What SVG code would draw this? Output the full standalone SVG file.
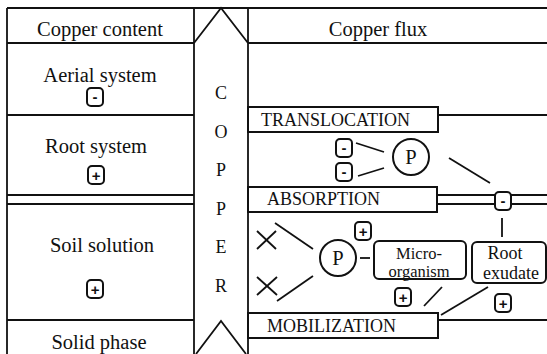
<svg xmlns="http://www.w3.org/2000/svg" xmlns:xlink="http://www.w3.org/1999/xlink" width="547" height="354" viewBox="0 0 547 354" font-family="'Liberation Serif', 'Times New Roman', serif">
  <style>
    .ln { stroke: #111; stroke-width: 1.8; fill: none; }
    .bx { stroke: #111; stroke-width: 2; fill: #fff; }
    .lbl { font-family: "Liberation Serif", "Times New Roman", serif; font-size: 20.5px; fill: #111; text-anchor: middle; }
    .cap { font-family: "Liberation Serif", "Times New Roman", serif; font-size: 18px; fill: #111; }
    .sm { font-family: "Liberation Serif", "Times New Roman", serif; font-size: 18px; fill: #111; text-anchor: middle; }
    .tight { font-size: 16.5px; }
    .sign { stroke: #111; stroke-width: 2; fill: #fff; }
    .sg { font-family: "Liberation Sans", Arial, sans-serif; font-weight: bold; font-size: 15px; fill: #111; text-anchor: middle; }
  </style>
  <defs>
    <g id="plusBox">
      <rect class="sign" x="-8" y="-9" width="16" height="18" rx="4"/>
      <text class="sg" x="0" y="5.5">+</text>
    </g>
    <g id="minusBox">
      <rect class="sign" x="-8" y="-9" width="16" height="18" rx="4"/>
      <text class="sg" x="0" y="5">-</text>
    </g>
  </defs>
  <rect width="547" height="354" fill="#fff"/>

  <!-- table frame and the COPPER arrow column -->
  <g id="frame" class="ln">
    <line x1="7" y1="8" x2="547" y2="8"/>
    <line x1="7" y1="8" x2="7" y2="354"/>
    <line x1="7" y1="43" x2="194" y2="43"/>
    <line x1="248" y1="43" x2="547" y2="43"/>
    <line x1="194" y1="8" x2="194" y2="354"/>
    <line x1="248" y1="8" x2="248" y2="354"/>
    <polyline points="194,43 221,8 248,43"/>
    <polyline points="196,354 221,321 246,354"/>
    <line x1="7" y1="115" x2="194" y2="115"/>
    <line x1="7" y1="195" x2="194" y2="195"/>
    <line x1="7" y1="204" x2="194" y2="204"/>
    <line x1="7" y1="320" x2="194" y2="320"/>
    <line x1="438" y1="115" x2="547" y2="115"/>
    <line x1="437" y1="195" x2="547" y2="195"/>
    <line x1="437" y1="204" x2="547" y2="204"/>
    <line x1="438" y1="320" x2="547" y2="320"/>
  </g>

  <!-- column headers -->
  <g id="headers">
    <text class="lbl" x="100" y="36">Copper content</text>
    <text class="lbl" x="378" y="36">Copper flux</text>
  </g>

  <!-- copper content compartments -->
  <g id="aerial">
    <text class="lbl" x="100" y="82">Aerial system</text>
    <use xlink:href="#minusBox" x="95" y="97"/>
  </g>
  <g id="root">
    <text class="lbl" x="96" y="153">Root system</text>
    <use xlink:href="#plusBox" x="96" y="175"/>
  </g>
  <g id="soil">
    <text class="lbl" x="102" y="252">Soil solution</text>
    <use xlink:href="#plusBox" x="95" y="289"/>
  </g>
  <g id="solid">
    <text class="lbl" x="99" y="349">Solid phase</text>
  </g>

  <!-- vertical word in the arrow -->
  <g id="copper" class="sm" font-size="19">
    <text x="221" y="99">C</text>
    <text x="221" y="137.5">O</text>
    <text x="221" y="176">P</text>
    <text x="221" y="214.5">P</text>
    <text x="221" y="253">E</text>
    <text x="221" y="291.5">R</text>
  </g>

  <!-- flux bars -->
  <g id="translocation">
    <rect class="bx" x="248" y="107" width="190" height="25"/>
    <text class="cap" x="261" y="126">TRANSLOCATION</text>
  </g>
  <g id="absorption">
    <rect class="bx" x="248" y="187" width="189" height="25"/>
    <text class="cap" x="267" y="205">ABSORPTION</text>
  </g>
  <g id="mobilization">
    <rect class="bx" x="248" y="313" width="190" height="25"/>
    <text class="cap" x="267" y="332">MOBILIZATION</text>
  </g>

  <!-- connectors -->
  <g id="connectors" class="ln" stroke-width="2">
    <line x1="356" y1="143" x2="384" y2="152"/>
    <line x1="358" y1="176" x2="384" y2="168"/>
    <line x1="449" y1="158" x2="490" y2="183"/>
    <line x1="502" y1="218" x2="502" y2="237"/>
    <line x1="275" y1="223" x2="313" y2="249"/>
    <line x1="313" y1="276" x2="277" y2="301"/>
    <line x1="360" y1="258" x2="370" y2="258"/>
    <line x1="442" y1="287" x2="424" y2="306"/>
    <line x1="488" y1="287" x2="441" y2="315"/>
    <!-- crossed-out marks -->
    <line x1="257" y1="231" x2="276" y2="249"/>
    <line x1="257" y1="249" x2="276" y2="231"/>
    <line x1="257" y1="277" x2="277" y2="295"/>
    <line x1="257" y1="295" x2="277" y2="277"/>
  </g>

  <!-- upper phosphorus node -->
  <g id="p-upper">
    <circle class="bx" cx="411" cy="157" r="18"/>
    <text class="lbl" x="411" y="164">P</text>
  </g>
  <g id="sign-upper">
    <use xlink:href="#minusBox" x="344" y="148"/>
    <use xlink:href="#minusBox" x="344" y="172"/>
  </g>
  <g id="sign-absorption">
    <use xlink:href="#minusBox" x="503" y="201"/>
  </g>

  <!-- lower phosphorus node -->
  <g id="p-lower">
    <circle class="bx" cx="338" cy="258" r="18"/>
    <text class="lbl" x="338" y="265">P</text>
    <use xlink:href="#plusBox" x="363" y="231"/>
  </g>

  <g id="microorganism">
    <rect class="bx" x="374" y="241" width="92" height="38" rx="5"/>
    <text class="sm tight" x="419" y="258.5">Micro-</text>
    <text class="sm tight" x="419" y="277">organism</text>
    <use xlink:href="#plusBox" x="403" y="297"/>
  </g>

  <g id="root-exudate">
    <rect class="bx" x="472" y="242" width="74" height="41" rx="5"/>
    <text class="sm" x="505" y="259" font-size="17.5">Root</text>
    <text class="sm" x="511" y="278.5" font-size="17.5">exudate</text>
    <use xlink:href="#plusBox" x="503" y="303"/>
  </g>
</svg>
